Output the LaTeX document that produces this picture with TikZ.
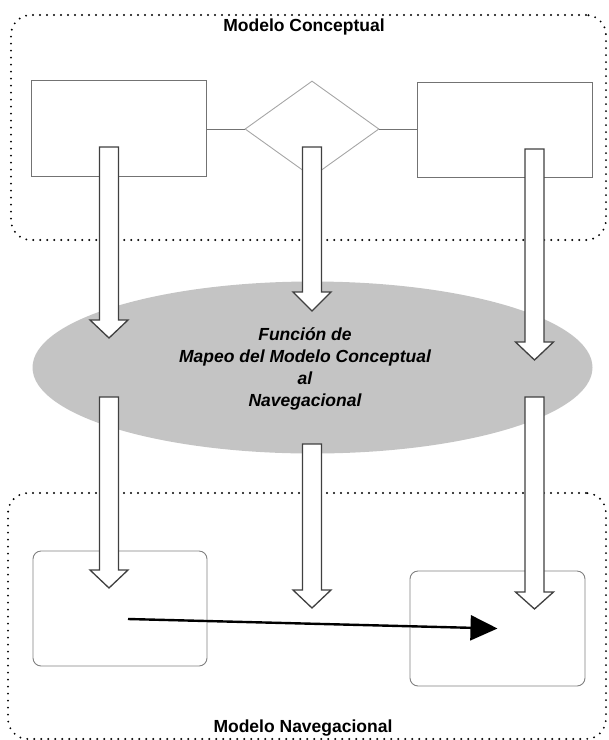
\documentclass[tikz,border=0pt]{standalone}
\usepackage{fontspec}
\setmainfont{Liberation Sans}
\usetikzlibrary{shapes.geometric,arrows.meta,calc}

% hollow block arrow pointing down: #1 = x of axis, #2 = top of shaft,
% #3 = y where the head starts, #4 = y of the tip
\newcommand\hollowarrow[4]{%
  \draw[blockarrow] (#1-9.5,#2) -- (#1+9.5,#2) -- (#1+9.5,#3) -- (#1+19,#3)
    -- (#1,#4) -- (#1-19,#3) -- (#1-9.5,#3) -- cycle;}

\begin{document}
\begin{tikzpicture}[x=1pt,y=-1pt,
  frame/.style={draw, line width=2.1pt, dash pattern=on 0pt off 7pt,
    line cap=round, rounded corners=20pt, inner sep=0},
  title/.style={font=\fontsize{17.5}{21}\selectfont\bfseries, inner sep=0},
  entity/.style={draw=black!55, line width=0.9pt, inner sep=0},
  relation/.style={diamond, draw=black!35, line width=0.9pt, inner sep=0,
    minimum width=134pt, minimum height=96pt},
  link/.style={draw=black!55, line width=0.9pt},
  mapping/.style={ellipse, fill=black!23, inner sep=0,
    minimum width=560pt, minimum height=172pt},
  maptext/.style={align=center, inner sep=0,
    font=\fontsize{17.5}{22}\selectfont\bfseries\itshape},
  navnode/.style={draw=black!50, line width=0.9pt, rounded corners=8pt, inner sep=0},
  blockarrow/.style={draw=black!75, fill=white, line width=1.3pt, line join=miter},
  navlink/.style={line width=2.4pt, -{Triangle[length=27pt,width=25pt]}}
]
\useasboundingbox (0,0) rectangle (609,740);

% the two model frames
\node[frame, minimum width=595pt, minimum height=225pt] (conceptual) at (308.5,127.5) {};
\node[frame, minimum width=598pt, minimum height=246pt] (navigational) at (307,616) {};
\node[title] (ctitle) at (304,27) {Modelo Conceptual};
\node[title] (ntitle) at (303,728) {Modelo Navegacional};

% conceptual schema: two entities and a relationship
\node[entity, minimum width=175pt, minimum height=96pt] (ent1) at (118.5,128) {};
\node[entity, minimum width=175pt, minimum height=95pt] (ent2) at (504.5,129.5) {};
\node[relation] (rel) at (312,129) {};
\draw[link] (rel.west -| ent1.east) -- (rel.west);
\draw[link] (rel.east) -- (rel.east -| ent2.west);

% navigational schema: two nodes
\node[navnode, minimum width=174pt, minimum height=115pt] (navA) at (120,608.5) {};
\node[navnode, minimum width=175pt, minimum height=115pt] (navB) at (497.5,628.5) {};

% mapping function
\node[mapping] (map) at (312.5,367.5) {};
\node[maptext] (maplabel) at (305,368.5) {Función de\\Mapeo del Modelo Conceptual\\al\\Navegacional};

% arrows into the mapping function
\hollowarrow{109}{147}{320}{338}
\hollowarrow{312}{147}{292}{311}
\hollowarrow{534.5}{149}{342}{360}

% arrows out of the mapping function
\hollowarrow{109}{397}{570}{588}
\hollowarrow{312}{444}{590}{608}
\hollowarrow{534.5}{397}{592}{609}

% navigation link between the two nodes
\coordinate (linkstart) at ($(navA.center)+(8,10.5)$);
\draw[navlink] (linkstart) -- (navB.center);
\end{tikzpicture}
\end{document}
